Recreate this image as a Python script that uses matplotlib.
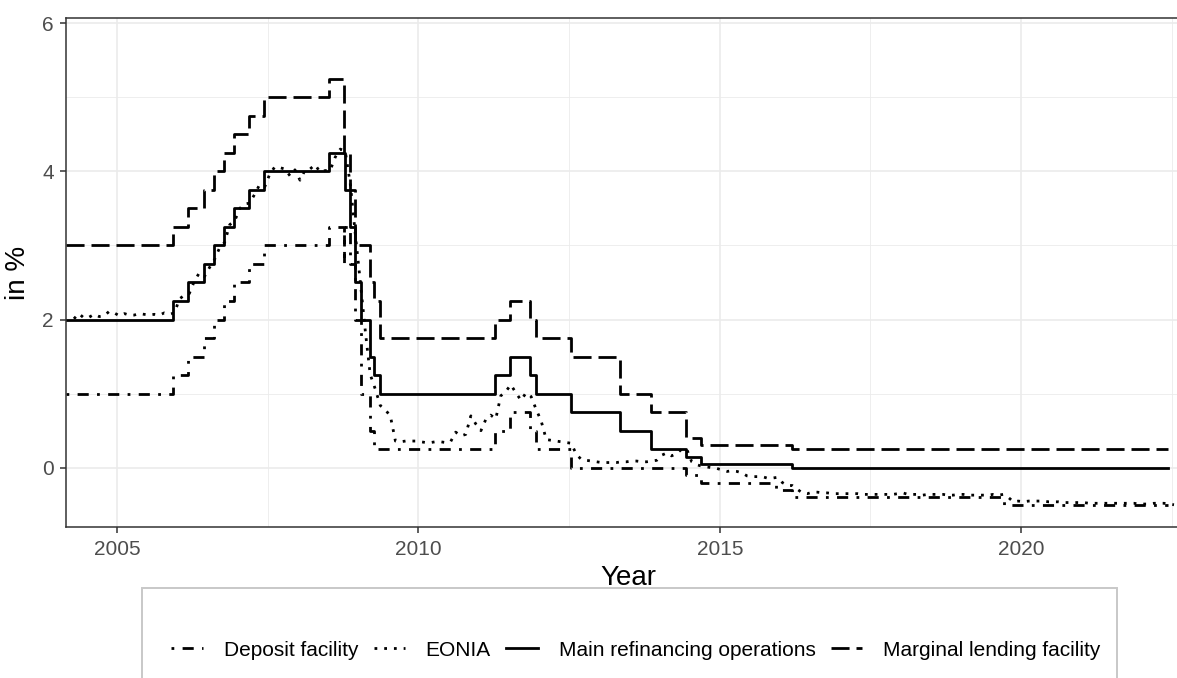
import numpy as np
import pandas as pd
import matplotlib
matplotlib.use("Agg")
import matplotlib.pyplot as plt
import matplotlib.dates as mdates
from matplotlib.lines import Line2D
from matplotlib.patches import Rectangle

plt.rcParams['font.family'] = ['Liberation Sans', 'DejaVu Sans']

# ECB key interest rates (dates of change, in %)
change_dates = ["2004-02-27", "2005-12-06", "2006-03-08", "2006-06-15", "2006-08-09",
                "2006-10-11", "2006-12-13", "2007-03-14", "2007-06-13", "2008-07-09",
                "2008-10-08", "2008-10-09", "2008-10-15", "2008-11-12", "2008-12-10",
                "2009-01-21", "2009-03-11", "2009-04-08", "2009-05-13", "2011-04-13",
                "2011-07-13", "2011-11-09", "2011-12-14", "2012-07-11", "2013-05-08",
                "2013-11-13", "2014-06-11", "2014-09-10", "2015-12-09", "2016-03-16",
                "2019-09-18", "2022-06-07"]
mro = [2.00, 2.25, 2.50, 2.75, 3.00, 3.25, 3.50, 3.75, 4.00, 4.25, 4.25, 4.25, 3.75, 3.25,
       2.50, 2.00, 1.50, 1.25, 1.00, 1.25, 1.50, 1.25, 1.00, 0.75, 0.50, 0.25, 0.15, 0.05,
       0.05, 0.00, 0.00, 0.00]
deposit = [1.00, 1.25, 1.50, 1.75, 2.00, 2.25, 2.50, 2.75, 3.00, 3.25, 2.75, 3.25, 3.25, 2.75,
           2.00, 1.00, 0.50, 0.25, 0.25, 0.50, 0.75, 0.50, 0.25, 0.00, 0.00, 0.00, -0.10, -0.20,
           -0.30, -0.40, -0.50, -0.50]
marginal = [3.00, 3.25, 3.50, 3.75, 4.00, 4.25, 4.50, 4.75, 5.00, 5.25, 4.75, 4.25, 4.25, 3.75,
            3.00, 3.00, 2.50, 2.25, 1.75, 2.00, 2.25, 2.00, 1.75, 1.50, 1.00, 0.75, 0.40, 0.30,
            0.30, 0.25, 0.25, 0.25]

# EONIA, monthly (Mar 2004 - Jun 2022)
eonia_start = "2004-03-15"
eonia = [2.01, 2.08, 2.02, 2.03, 2.07, 2.04, 2.05, 2.11, 2.09, 2.05,
         2.08, 2.06, 2.06, 2.08, 2.07, 2.06, 2.07, 2.06, 2.09, 2.07, 2.09, 2.28,
         2.33, 2.35, 2.52, 2.63, 2.58, 2.70, 2.81, 2.97, 3.04, 3.28, 3.33, 3.50,
         3.56, 3.57, 3.69, 3.82, 3.79, 3.96, 4.06, 4.05, 4.03, 3.94, 4.02, 3.88,
         4.02, 4.03, 4.09, 3.99, 4.01, 4.01, 4.19, 4.30, 4.27, 3.82, 3.15, 2.49,
         1.81, 1.26, 1.06, 0.84, 0.78, 0.70, 0.36, 0.35, 0.36, 0.36, 0.36, 0.35,
         0.34, 0.34, 0.35, 0.35, 0.34, 0.35, 0.48, 0.43, 0.45, 0.70, 0.59, 0.50,
         0.66, 0.71, 0.66, 0.97, 1.03, 1.12, 1.01, 0.91, 1.01, 0.96, 0.79, 0.63,
         0.38, 0.37, 0.36, 0.35, 0.34, 0.33, 0.18, 0.11, 0.10, 0.09, 0.08, 0.07,
         0.07, 0.07, 0.07, 0.08, 0.08, 0.09, 0.09, 0.08, 0.08, 0.09, 0.10, 0.17,
         0.20, 0.16, 0.19, 0.25, 0.25, 0.08, 0.04, 0.02, 0.01, 0.00, -0.01, -0.03,
         -0.05, -0.04, -0.05, -0.07, -0.11, -0.12, -0.12, -0.12, -0.14, -0.14, -0.13, -0.20,
         -0.24, -0.24, -0.29, -0.34, -0.35, -0.33, -0.33, -0.34, -0.34, -0.35, -0.35, -0.35,
         -0.35, -0.35, -0.35, -0.36, -0.36, -0.36, -0.36, -0.36, -0.36, -0.36, -0.35, -0.34,
         -0.36, -0.36, -0.36, -0.37, -0.36, -0.36, -0.36, -0.36, -0.37, -0.37, -0.36, -0.36,
         -0.37, -0.37, -0.37, -0.37, -0.37, -0.36, -0.37, -0.36, -0.40, -0.46, -0.45, -0.46,
         -0.45, -0.45, -0.45, -0.45, -0.46, -0.46, -0.46, -0.47, -0.47, -0.47, -0.47, -0.47,
         -0.48, -0.48, -0.48, -0.48, -0.48, -0.48, -0.48, -0.48, -0.48, -0.48, -0.49, -0.49,
         -0.49, -0.48, -0.48, -0.48, -0.49, -0.50]

dates = pd.to_datetime(change_dates)
eonia_dates = pd.date_range(eonia_start, periods=len(eonia), freq="MS") + pd.Timedelta(days=14)

fig = plt.figure(figsize=(11.77, 6.78), dpi=100)
ax = fig.add_axes([66 / 1177, 1 - 527.3 / 678, (1190 - 66) / 1177, (527.3 - 18.3) / 678])

lw = 2.0
ax.step(dates, deposit, where="post", color="black", lw=lw, dashes=(1, 3, 4, 3))
ax.plot(eonia_dates, eonia, color="black", lw=lw, dashes=(1, 2.5))
ax.step(dates, mro, where="post", color="black", lw=lw)
ax.step(dates, marginal, where="post", color="black", lw=lw, dashes=(6.5, 2.5))

# axes limits
ax.set_xlim(pd.Timestamp("2004-02-27"), pd.Timestamp("2022-10-20"))
ax.set_ylim(-0.804, 6.065)

ax.xaxis.set_major_locator(mdates.YearLocator(5))
ax.xaxis.set_major_formatter(mdates.DateFormatter("%Y"))
minor_x = pd.to_datetime(["2002-07-02", "2007-07-02", "2012-07-02", "2017-07-02", "2022-07-02"])
ax.xaxis.set_minor_locator(plt.FixedLocator(mdates.date2num(minor_x)))
ax.set_yticks([0, 2, 4, 6])
ax.set_yticks([1, 3, 5], minor=True)

ax.grid(which="major", color="#ebebeb", lw=1.2)
ax.grid(which="minor", color="#ebebeb", lw=0.6)
ax.set_axisbelow(True)

for s in ax.spines.values():
    s.set_color("#333333")
    s.set_linewidth(1.1)

ax.tick_params(which="major", length=4.3, width=1.1, color="#333333",
               labelcolor="#4d4d4d", labelsize=15, pad=4.5)
ax.tick_params(which="minor", length=0)

ax.set_xlabel("Year", fontsize=20, labelpad=5)
ax.set_ylabel("in %", fontsize=20, labelpad=8)

# legend
handles = [
    Line2D([], [], color="black", lw=lw, dashes=(1, 3, 4, 3)),
    Line2D([], [], color="black", lw=lw, dashes=(1, 2.5)),
    Line2D([], [], color="black", lw=lw),
    Line2D([], [], color="black", lw=lw, dashes=(6.5, 2.5)),
]
labels = ["Deposit facility", "EONIA", "Main refinancing operations", "Marginal lending facility"]
fig.legend(handles, labels, loc="center", bbox_to_anchor=(636 / 1177, 28 / 678),
           ncol=4, frameon=False, fontsize=15, handlelength=1.5, handletextpad=1.0,
           columnspacing=0.75)
fig.patches.append(Rectangle((142 / 1177, -0.1), (1117 - 142) / 1177, 0.1 + 90 / 678,
                             transform=fig.transFigure, fill=False,
                             edgecolor="#c8c8c8", lw=1.4))

fig.savefig("out.png", dpi=100)
